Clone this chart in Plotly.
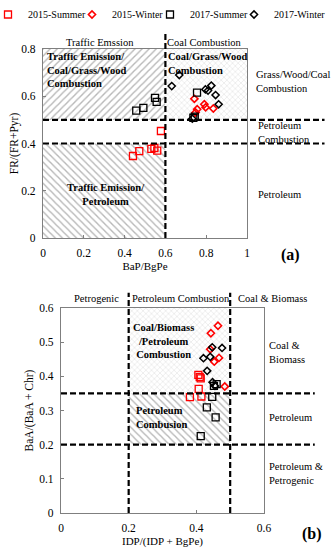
import plotly.graph_objects as go

# ---------------- data ----------------
series_names = ["2015-Summer", "2015-Winter", "2017-Summer", "2017-Winter"]

# Panel (a): BaP/BgPe (x) vs FR/(FR+Pyr) (y)
a_s15_x = [0.441, 0.472, 0.531, 0.546, 0.560, 0.578]
a_s15_y = [0.347, 0.368, 0.377, 0.381, 0.370, 0.453]
a_w15_x = [0.742, 0.791, 0.797, 0.756, 0.748, 0.835]
a_w15_y = [0.589, 0.566, 0.553, 0.545, 0.531, 0.548]
a_s17_x = [0.457, 0.492, 0.549, 0.557, 0.755, 0.737, 0.744]
a_s17_y = [0.539, 0.551, 0.593, 0.576, 0.615, 0.509, 0.514]
a_w17_x = [0.668, 0.631, 0.796, 0.809, 0.825, 0.846, 0.861, 0.732]
a_w17_y = [0.690, 0.643, 0.629, 0.624, 0.645, 0.605, 0.566, 0.505]

# Panel (b): IDP/(IDP+BgPe) (x) vs BaA/(BaA+Chr) (y)
b_s15_x = [0.406, 0.413, 0.410, 0.407, 0.381, 0.415]
b_s15_y = [0.404, 0.394, 0.398, 0.363, 0.339, 0.341]
b_w15_x = [0.464, 0.443, 0.441, 0.467, 0.453, 0.484]
b_w15_y = [0.548, 0.526, 0.479, 0.454, 0.443, 0.370]
b_s17_x = [0.460, 0.452, 0.447, 0.431, 0.457, 0.413]
b_s17_y = [0.377, 0.372, 0.340, 0.309, 0.280, 0.225]
b_w17_x = [0.447, 0.476, 0.421, 0.441, 0.432, 0.448, 0.455]
b_w17_y = [0.485, 0.483, 0.453, 0.457, 0.416, 0.383, 0.372]

# diagnostic thresholds
a_x_cut = 0.6
a_y_cuts = [0.4, 0.5]
b_x_cuts = [0.2, 0.5]
b_y_cuts = [0.2, 0.35]

# axis ticks
a_x_ticks = [0, 0.2, 0.4, 0.6, 0.8, 1]
a_x_labels = ["0", "0.2", "0.4", "0.6", "0.8", "1"]
a_y_ticks = [0, 0.2, 0.4, 0.6, 0.8]
a_y_labels = ["0", "0.2", "0.4", "0.6", "0.8"]
b_x_ticks = [0, 0.2, 0.4, 0.6]
b_x_labels = ["0", "0.2", "0.4", "0.6"]
b_y_ticks = [0, 0.1, 0.2, 0.3, 0.4, 0.5, 0.6]
b_y_labels = ["0", "0.1", "0.2", "0.3", "0.4", "0.5", "0.6"]

# ---------------- figure ----------------
W, H = 335, 550
FONT = "Liberation Serif"


def px(x):
    return x / W


def py(y):
    return 1 - y / H


fig = go.Figure()


def region(xr, yr, shape, fg, size, sol, xa, ya):
    fig.add_trace(go.Scatter(
        x=[xr[0], xr[1], xr[1], xr[0], xr[0]],
        y=[yr[0], yr[0], yr[1], yr[1], yr[0]],
        mode="lines", line=dict(width=0), fill="toself",
        fillcolor="rgba(0,0,0,0)",
        fillpattern=dict(shape=shape, fgcolor=fg, bgcolor="white", size=size, solidity=sol),
        hoverinfo="skip", showlegend=False, xaxis=xa, yaxis=ya))


hatch = "#707070"
cross = "#bdbdbd"
# panel (a) regions
region([0, a_x_cut], [a_y_cuts[1], a_y_ticks[-1]], "/", hatch, 5, 0.28, "x", "y")
region([0, a_x_cut], [0, a_y_cuts[0]], "\\", hatch, 5, 0.28, "x", "y")
region([a_x_cut, a_x_ticks[-1]], [a_y_cuts[1], a_y_ticks[-1]], "x", cross, 4, 0.25, "x", "y")
# panel (b) regions
region([b_x_cuts[0], b_x_cuts[1]], [b_y_cuts[1], b_y_ticks[-1]], "x", cross, 4, 0.25, "x2", "y2")
region([b_x_cuts[0], b_x_cuts[1]], [b_y_cuts[0], b_y_cuts[1]], "\\", hatch, 5, 0.28, "x2", "y2")

styles = [
    dict(symbol="square-open", size=7, color="#ff0000", line=dict(width=1.3, color="#ff0000")),
    dict(symbol="diamond-open", size=5.5, color="#ff0000", line=dict(width=1.6, color="#ff0000")),
    dict(symbol="square-open", size=7, color="#000000", line=dict(width=1.3, color="#000000")),
    dict(symbol="diamond-open", size=5.5, color="#000000", line=dict(width=1.5, color="#000000")),
]
legend_ids = ["legend", "legend2", "legend3", "legend4"]
legend_left_px = [0, 84, 162, 246]

a_sets = [(a_s15_x, a_s15_y), (a_w15_x, a_w15_y), (a_s17_x, a_s17_y), (a_w17_x, a_w17_y)]
b_sets = [(b_s15_x, b_s15_y), (b_w15_x, b_w15_y), (b_s17_x, b_s17_y), (b_w17_x, b_w17_y)]

for i, name in enumerate(series_names):
    fig.add_trace(go.Scatter(x=a_sets[i][0], y=a_sets[i][1], mode="markers", name=name,
                             marker=styles[i], legendgroup=name, showlegend=True,
                             legend=legend_ids[i], xaxis="x", yaxis="y"))
    fig.add_trace(go.Scatter(x=b_sets[i][0], y=b_sets[i][1], mode="markers", name=name,
                             marker=styles[i], legendgroup=name, showlegend=False,
                             legend=legend_ids[i], xaxis="x2", yaxis="y2"))

dash = dict(color="black", width=2.2, dash="6px,3px")
shapes = []
for yc in a_y_cuts:
    shapes.append(dict(type="line", xref="x domain", yref="y", x0=0, x1=1.38, y0=yc, y1=yc, line=dash))
shapes.append(dict(type="line", xref="x", yref="y domain", x0=a_x_cut, x1=a_x_cut, y0=0, y1=1.085, line=dash))
for yc in b_y_cuts:
    shapes.append(dict(type="line", xref="x2 domain", yref="y2", x0=0, x1=1.25, y0=yc, y1=yc, line=dash))
for xc in b_x_cuts:
    shapes.append(dict(type="line", xref="x2", yref="y2 domain", x0=xc, x1=xc, y0=0, y1=1.075, line=dash))

AF = 10.5
anns = []


def note(text, x, y, xanchor="center", yanchor="middle", size=AF, align="left"):
    anns.append(dict(text=text, x=px(x), y=py(y), xref="paper", yref="paper",
                     xanchor=xanchor, yanchor=yanchor, showarrow=False, align=align,
                     font=dict(family=FONT, size=size, color="black")))


# panel (a) labels
note("Traffic Emssion", 100, 42)
note("Coal Combustion", 204, 42)
note("<b>Traffic Emission/<br>Coal/Grass/Wood<br>Combustion</b>", 45, 49, "left", "top")
note("<b>Coal/Grass/Wood<br>Combustion</b>", 166, 49, "left", "top")
note("Grass/Wood/Coal<br>Combustion", 254, 82, "left")
note("Petroleum<br>Combustion", 256, 132, "left")
note("Petroleum", 256, 194, "left")
note("<b>Traffic Emission/<br>Petroleum</b>", 106, 195, align="center")
note("<b>(a)</b>", 290, 255, size=16)
# panel (b) labels
note("Petrogenic", 96, 298)
note("Petroleum Combustion", 181, 298)
note("Coal & Biomass", 272, 298)
note("<b>Coal/Biomass<br>/Petroleum<br>Combustion</b>", 163, 341, align="center")
note("<b>Petroleum<br>Combusion</b>", 134, 417, "left")
note("Coal &<br>Biomass", 267, 352, "left")
note("Petroleum", 267, 417, "left")
note("Petroleum &<br>Petrogenic", 267, 473, "left")
note("<b>(b)</b>", 312, 534, size=16)

axis_common = dict(showline=True, mirror=True, linecolor="#7f7f7f", linewidth=1.3,
                   showgrid=False, zeroline=False, ticks="inside", ticklen=3,
                   tickcolor="#7f7f7f", tickfont=dict(family=FONT, size=11.5, color="black"),
                   ticklabelstandoff=4, automargin=False)

legend_layout = {}
for lid, left in zip(legend_ids, legend_left_px):
    legend_layout[lid] = dict(orientation="h", x=px(left), y=1, xanchor="left", yanchor="top",
                              font=dict(family=FONT, size=10, color="black"), indentation=-12,
                              bgcolor="rgba(0,0,0,0)", itemwidth=30)

fig.update_layout(
    width=W, height=H, margin=dict(l=0, r=0, t=0, b=0, autoexpand=False),
    paper_bgcolor="white", plot_bgcolor="white",
    font=dict(family=FONT, size=11, color="black"),
    showlegend=True,
    xaxis=dict(domain=[px(43), px(247)], range=[0, 1], tickvals=a_x_ticks, ticktext=a_x_labels,
               anchor="y", title=dict(text="BaP/BgPe", standoff=4, font=dict(size=11)), **axis_common),
    yaxis=dict(domain=[py(238), py(49)], range=[0, 0.8], tickvals=a_y_ticks, ticktext=a_y_labels,
               anchor="x", title=dict(text="FR/(FR+Pyr)", standoff=0, font=dict(size=11.5)), **axis_common),
    xaxis2=dict(domain=[px(61), px(264)], range=[0, 0.6], tickvals=b_x_ticks, ticktext=b_x_labels,
                anchor="y2", title=dict(text="IDP/(IDP + BgPe)", standoff=4, font=dict(size=11)), **axis_common),
    yaxis2=dict(domain=[py(513), py(308)], range=[0, 0.6], tickvals=b_y_ticks, ticktext=b_y_labels,
                anchor="x2", title=dict(text="BaA/(BaA + Chr)", standoff=3, font=dict(size=11.5)), **axis_common),
    shapes=shapes, annotations=anns,
    **legend_layout,
)

fig.write_html("out.html", config={"displayModeBar": False},
               post_script="document.body.style.margin='0px';document.body.style.overflow='hidden';")
